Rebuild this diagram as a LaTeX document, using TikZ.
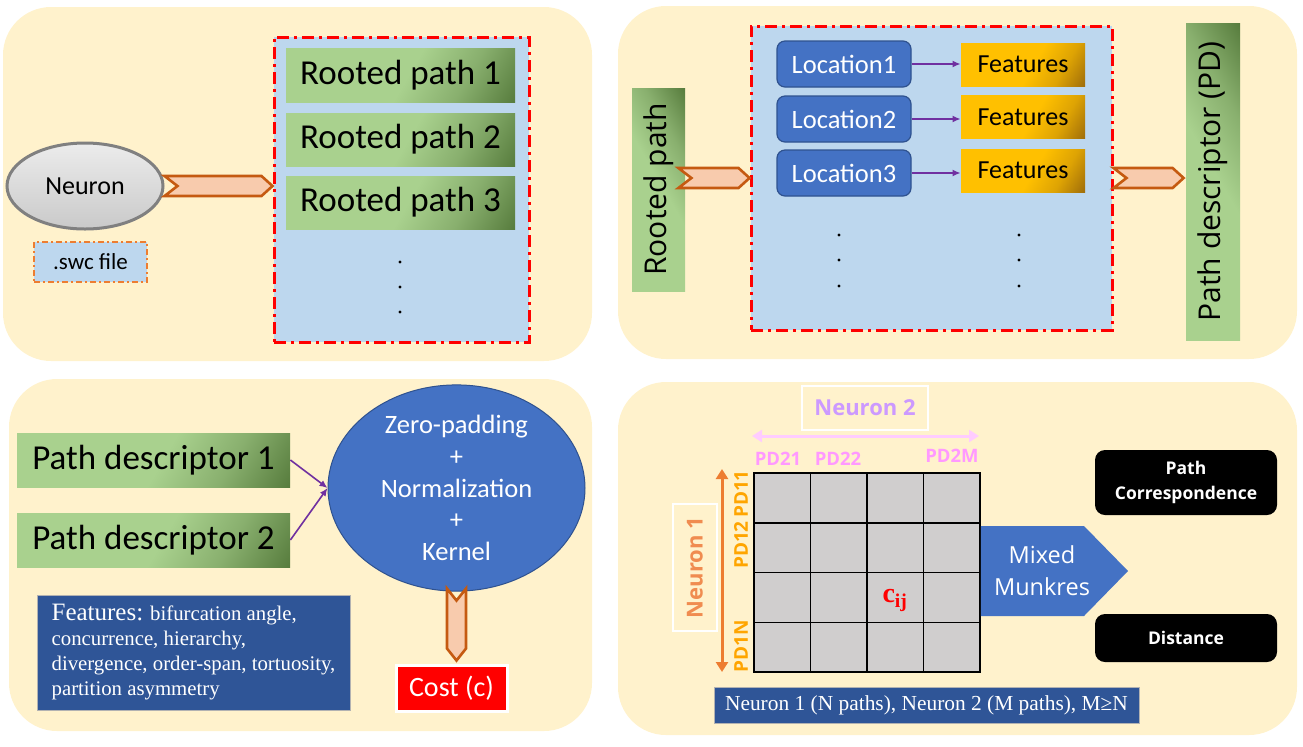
\documentclass[tikz,border=0pt]{standalone}
\usepackage{fontspec}
\setmainfont{Carlito}
\newfontfamily\opensans{Open Sans}
\newfontfamily\timesfont{Liberation Serif}
\usepackage{xcolor}
\usetikzlibrary{arrows.meta,positioning,shapes.geometric,calc}

\definecolor{panelbg}{RGB}{255,242,204}
\definecolor{paleblue}{RGB}{189,215,238}
\definecolor{leafA}{RGB}{169,209,142}
\definecolor{leafB}{RGB}{88,125,62}
\definecolor{goldA}{RGB}{255,192,0}
\definecolor{goldB}{RGB}{160,110,10}
\definecolor{chevfill}{RGB}{248,203,173}
\definecolor{chevline}{RGB}{197,90,17}
\definecolor{locblue}{RGB}{68,114,196}
\definecolor{locline}{RGB}{47,82,143}
\definecolor{navy}{RGB}{47,85,151}
\definecolor{arrowpurple}{RGB}{112,48,160}
\definecolor{cellgray}{RGB}{208,206,206}
\definecolor{lilac}{RGB}{204,153,255}
\definecolor{pinkarrow}{RGB}{255,204,255}
\definecolor{pinklabel}{RGB}{255,153,255}
\definecolor{orangearrow}{RGB}{237,125,49}
\definecolor{orangelabel}{RGB}{255,165,0}
\definecolor{neuronorange}{RGB}{240,140,80}

\pgfdeclarehorizontalshading{leafshade}{100bp}{color(0bp)=(leafA); color(52bp)=(leafA);
  color(68bp)=(leafA!60!leafB); color(84bp)=(leafB); color(100bp)=(leafB)}
\pgfdeclarehorizontalshading{goldshade}{100bp}{color(0bp)=(goldA); color(55bp)=(goldA);
  color(70bp)=(goldA!65!goldB); color(84bp)=(goldB); color(100bp)=(goldB)}

% horizontal chevron from #1 to #2
\newcommand{\hchevron}[2]{%
  \draw[chev] ($(#1)+(0,-10)$) -- ($(#2)+(-11,-10)$) -- (#2)
    -- ($(#2)+(-11,10)$) -- ($(#1)+(0,10)$) -- ($(#1)+(13,0)$) -- cycle;}

\begin{document}
\begin{tikzpicture}[
    x=0.5pt, y=-0.5pt,
    panel/.style={
        fill=panelbg,
        rounded corners=24pt
    },
    redframe/.style={
        fill=paleblue,
        draw=red,
        line width=1.5pt,
        dash pattern=on 6pt off 2.5pt on 1.5pt off 2.5pt,
        inner sep=0pt
    },
    greenbox/.style={
        shading=leafshade,
        shading angle=-30,
        inner sep=0pt,
        font=\fontsize{17.5}{20}\selectfont
    },
    tallgreen/.style={
        shading=leafshade,
        shading angle=30,
        inner sep=0pt
    },
    goldbox/.style={
        shading=goldshade,
        shading angle=-30,
        inner sep=0pt,
        minimum width=62pt,
        minimum height=21.5pt,
        font=\fontsize{13}{15}\selectfont
    },
    locnode/.style={
        fill=locblue,
        draw=locline,
        line width=0.6pt,
        rounded corners=4pt,
        text=white,
        inner sep=0pt,
        minimum width=67pt,
        minimum height=23pt,
        font=\fontsize{13.25}{15}\selectfont
    },
    chev/.style={
        fill=chevfill,
        draw=chevline,
        line width=1.3pt,
        line join=miter
    },
    navybox/.style={
        fill=navy,
        draw=gray!60,
        line width=0.4pt,
        text=white,
        inner sep=0pt
    },
    blackbox/.style={
        fill=black,
        rounded corners=5pt,
        text=white,
        align=center,
        minimum width=91pt,
        font=\opensans\bfseries\fontsize{8.75}{12.5}\selectfont
    },
    cell/.style={
        fill=cellgray,
        draw=black,
        line width=0.75pt,
        inner sep=0pt,
        minimum width=28.25pt,
        minimum height=24.875pt
    },
    pdtop/.style={
        text=pinklabel,
        inner sep=0pt,
        font=\opensans\bfseries\fontsize{9.25}{10}\selectfont
    },
    pdside/.style={
        text=orangelabel,
        rotate=90,
        inner sep=0pt,
        font=\opensans\bfseries\fontsize{9.5}{10}\selectfont
    },
    arrow/.style={
        -{Latex[length=4pt,width=3.5pt]},
        arrowpurple,
        line width=0.8pt
    },
    dblarrow/.style={
        {Triangle[length=5pt,width=6pt]}-{Triangle[length=5pt,width=6pt]},
        line width=1.5pt
    }
]
\useasboundingbox (0,0) rectangle (1303,746);

% Panels
\fill[panel] (3,7) rectangle (592,361);
\fill[panel] (618,6) rectangle (1297,359);
\fill[panel] (9,379) rectangle (592,731);
\fill[panel] (618,382) rectangle (1297,735);

% ---- Top left: neuron to rooted paths
\node[ellipse, draw={rgb,255:red,128;green,128;blue,128}, line width=1.5pt,
    top color=gray!15, bottom color=gray!42, inner sep=0pt,
    minimum width=78pt, minimum height=43pt,
    font=\fontsize{13}{15}\selectfont] (neuron) at (85,186) {Neuron};

\node[fill=paleblue, draw=orangearrow, line width=0.8pt,
    dash pattern=on 3pt off 1.5pt on 1pt off 1.5pt,
    minimum width=56.5pt, minimum height=20pt, inner sep=0pt,
    font=\fontsize{11.5}{13}\selectfont] (swc) at (90.5,262) {.swc file};

\node[redframe, minimum width=127.5pt, minimum height=152.5pt] (rpframe) at (401.5,189.5) {};

\node[greenbox, minimum width=114.5pt, minimum height=27pt] (rp1) at (400.5,75.5) {Rooted path 1};
\node[greenbox, minimum width=114.5pt, minimum height=26.5pt] (rp2) at (400.5,139.5) {Rooted path 2};
\node[greenbox, minimum width=114.5pt, minimum height=26.5pt] (rp3) at (400.5,202.5) {Rooted path 3};

\foreach \y in {262,287,312}
    \fill (400,\y) circle (0.8pt);

\coordinate (tlchevA) at (neuron.east);
\coordinate (tlchevB) at (neuron.east -| rpframe.west);
\hchevron{tlchevA}{tlchevB}

% ---- Top right: rooted path to path descriptor
\node[tallgreen, minimum width=26.5pt, minimum height=101.5pt] (rooted) at (658.5,189.5) {};
\node[rotate=90, inner sep=0pt, font=\opensans\fontsize{15}{18}\selectfont] (rootedtxt) at (rooted.center) {Rooted path};

\node[redframe, minimum width=180.5pt, minimum height=152pt] (locframe) at (931.5,178) {};

\node[locnode] (loc1) at (844,64) {Location1};
\node[locnode] (loc2) at (844,119) {Location2};
\node[locnode] (loc3) at (844,173) {Location3};

\node[goldbox] (feat1) at (1023,64.5) {Features};
\node[goldbox] (feat2) at (1023,117) {Features};
\node[goldbox] (feat3) at (1023,170.5) {Features};

\foreach \i in {1,2,3}
    \draw[arrow] (loc\i.east) -- (loc\i.east -| feat\i.west);

\foreach \y in {235,260,286} {
    \fill (839,\y) circle (0.8pt);
    \fill (1019,\y) circle (0.8pt);
}

\node[tallgreen, minimum width=27pt, minimum height=158.5pt] (pd) at (1213,181.5) {};
\node[rotate=90, inner sep=0pt, font=\opensans\fontsize{15}{18}\selectfont] (pdtxt) at (pd.center) {Path descriptor (PD)};

\coordinate (trchevA) at ($(rooted.east)+(-7,-11.5)$);
\coordinate (trchevB) at (trchevA -| locframe.west);
\hchevron{trchevA}{trchevB}

\coordinate (pdchevA) at (locframe.east);
\coordinate (pdchevB) at ($(locframe.east -| pd.west)+(-2,0)$);
\hchevron{pdchevA}{pdchevB}

% ---- Bottom left: cost
\node[greenbox, minimum width=136.5pt, minimum height=27pt] (pd1) at (153.5,460) {Path descriptor 1};
\node[greenbox, minimum width=136.5pt, minimum height=27pt] (pd2) at (153.5,540) {Path descriptor 2};

\node[ellipse, fill=locblue, draw=locline, line width=0.5pt, inner sep=0pt,
    minimum width=128.5pt, minimum height=103pt, text=white, align=center,
    font=\fontsize{13.25}{15.9}\selectfont] (kern) at (456.5,488)
{Zero-padding\\+\\Normalization\\+\\Kernel};

\draw[arrow] (pd1.east) -- (kern.west);
\draw[arrow] (pd2.east) -- (kern.west);

\node[navybox, align=left, inner xsep=5pt, minimum width=156.5pt,
    minimum height=57.5pt, font=\timesfont\fontsize{10.4}{12.5}\selectfont] (featlist) at (193.5,652.5)
{{\fontsize{12.5}{12.5}\selectfont Features:} bifurcation angle,\\
concurrence, hierarchy,\\
divergence, order-span, tortuosity,\\
partition asymmetry};

\node[fill=red, draw=white, line width=1.5pt, text=white, inner sep=0pt,
    minimum width=55.5pt, minimum height=23pt,
    font=\fontsize{14}{16}\selectfont] (cost) at (451.5,688) {Cost (c)};

\coordinate (dchevA) at ($(kern.south)+(0,-3)$);
\coordinate (dchevB) at ($(kern.south |- cost.north)+(0,-3)$);
\draw[chev] ($(dchevA)+(-9.5,0)$) -- ($(dchevA)+(0,12)$) -- ($(dchevA)+(9.5,0)$)
    -- ($(dchevB)+(9.5,-12)$) -- (dchevB) -- ($(dchevB)+(-9.5,-12)$) -- cycle;

% ---- Bottom right: matching
\node[draw=white, line width=0.6pt, text=lilac, inner sep=0pt,
    minimum width=63pt, minimum height=22pt,
    font=\opensans\bfseries\fontsize{11}{13}\selectfont] (n2lab) at (865,408) {Neuron 2};
\node[draw=white, line width=0.6pt, text=neuronorange, rotate=90, inner sep=0pt,
    minimum width=63.5pt, minimum height=22pt,
    font=\opensans\bfseries\fontsize{11}{13}\selectfont] (n1lab) at (695,567.5) {Neuron 1};

\foreach \r in {0,...,3} {
    \foreach \c in {0,...,3} {
        \node[cell] (cell\r\c) at ({754+56.5*(\c+0.5)},{473+49.75*(\r+0.5)}) {};
    }
}

\node[text=red, inner sep=0pt, font=\timesfont\bfseries\fontsize{14}{16}\selectfont]
    (cij) at ($(cell22)+(0,3)$) {c\textsubscript{ij}};

\node[pdtop] (pd21) at (778,459) {PD21};
\node[pdtop] (pd22) at (838,459) {PD22};
\node[pdtop] (pd2m) at (952,456) {PD2M};

\node[pdside] (pd11) at (741,494) {PD11};
\node[pdside] (pd12) at (741,545) {PD12};
\node[pdside] (pd1n) at (741,646) {PD1N};

\coordinate (n2left) at (752,436);
\coordinate (n2right) at (979,436);
\draw[dblarrow, pinkarrow] (n2left) -- (n2right);

\coordinate (n1top) at (722,469);
\coordinate (n1bot) at (722,672);
\draw[dblarrow, orangearrow] (n1top) -- (n1bot);

\fill[locblue] (cell13.east |- 0,526) -- (1084,526) -- (1128,571) -- (1084,616)
    -- (cell13.east |- 0,616) -- cycle;
\node[text=white, align=center, inner sep=0pt,
    font=\opensans\fontsize{11.75}{16}\selectfont] (munk) at (1042,571) {Mixed\\Munkres};

\node[blackbox, minimum height=32.5pt] (corr) at (1186,482.5) {Path\\Correspondence};
\node[blackbox, minimum height=24pt] (dist) at (1186,638) {Distance};

\node[navybox, minimum width=212.5pt, minimum height=18pt,
    font=\timesfont\fontsize{10.7}{12}\selectfont] (note) at (926.5,705)
{Neuron 1 (N paths), Neuron 2 (M paths), M≥N};

\end{tikzpicture}
\end{document}
